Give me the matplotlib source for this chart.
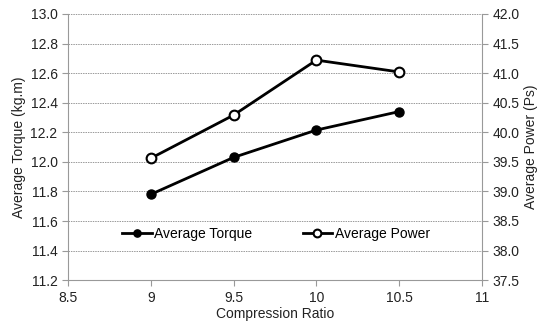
import matplotlib
matplotlib.use("Agg")
import matplotlib.pyplot as plt

plt.rcParams['font.family'] = ['Liberation Sans', 'DejaVu Sans']

# data
ratio = [9, 9.5, 10, 10.5]
torque = [11.78, 12.03, 12.215, 12.34]
power = [39.56, 40.29, 41.22, 41.02]

fig = plt.figure(figsize=(5.5, 3.25), dpi=100)
ax = fig.add_axes([0.1236, 0.138, 0.7527, 0.819])
ax2 = ax.twinx()

l1, = ax.plot(ratio, torque, 'o-', color='black', lw=2, ms=6.5,
              mfc='black', mec='black', label='Average Torque', zorder=3)
l2, = ax2.plot(ratio, power, 'o-', color='black', lw=2, ms=7,
               mfc='white', mec='black', mew=1.5, label='Average Power', zorder=3)

ax.set_xlim(8.5, 11)
ax.set_ylim(11.2, 13.0)
ax2.set_ylim(37.5, 42.0)
ax.set_xticks([8.5, 9, 9.5, 10, 10.5, 11])
ax.set_xticklabels(['8.5', '9', '9.5', '10', '10.5', '11'])
ax.set_yticks([11.2 + 0.2 * i for i in range(10)])
ax.set_yticklabels(['%.1f' % (11.2 + 0.2 * i) for i in range(10)])
ax2.set_yticks([37.5 + 0.5 * i for i in range(10)])
ax2.set_yticklabels(['%.1f' % (37.5 + 0.5 * i) for i in range(10)])

ax.yaxis.grid(True, linestyle=(0, (1.5, 1)), color='#999999', lw=0.7)
ax.set_axisbelow(True)

for a in (ax, ax2):
    for s in a.spines.values():
        s.set_visible(False)
    a.tick_params(labelsize=10, colors='#999999', labelcolor='#222222',
                  length=4, width=0.8, direction='out')
ax.spines['left'].set_visible(True)
ax.spines['left'].set_color('#999999')
ax.spines['bottom'].set_visible(True)
ax.spines['bottom'].set_color('#999999')
ax2.spines['right'].set_visible(True)
ax2.spines['right'].set_color('#999999')

ax.set_xlabel('Compression Ratio', fontsize=10, color='#222222', labelpad=2)
ax.set_ylabel('Average Torque (kg.m)', fontsize=10, color='#222222', labelpad=3)
ax2.set_ylabel('Average Power (Ps)', fontsize=10, color='#222222', labelpad=3)

ax2.legend([l1, l2], ['Average Torque', 'Average Power'], ncol=2, frameon=False,
           loc='center left', bbox_to_anchor=(0.13, 0.173), fontsize=10,
           borderpad=0, borderaxespad=0, markerscale=0.8,
           handlelength=2.15, handletextpad=0.2, columnspacing=3.6)

plt.savefig('out.png', dpi=100)
plt.close()
